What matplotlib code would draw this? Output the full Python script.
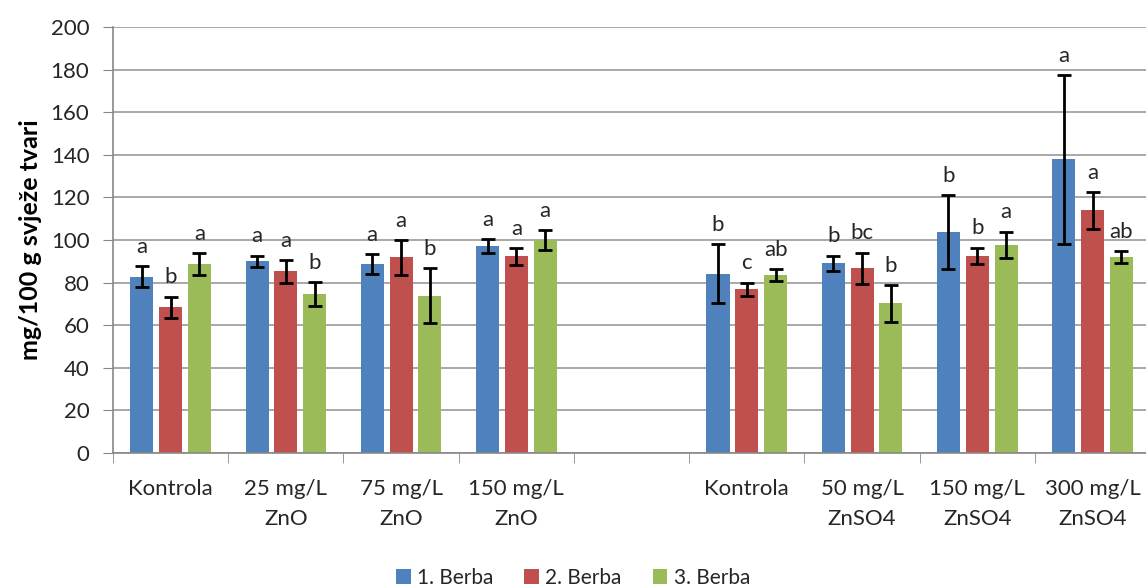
import matplotlib.pyplot as plt
import numpy as np

plt.rcParams['font.family'] = ['Lato', 'DejaVu Sans']
plt.rcParams['text.color'] = '#262626'
plt.rcParams['xtick.color'] = '#262626'
plt.rcParams['ytick.color'] = '#262626'

# kategorije (prazno mjesto između ZnO i ZnSO4)
categories = ["Kontrola", "25 mg/L\nZnO", "75 mg/L\nZnO", "150 mg/L\nZnO", "",
              "Kontrola", "50 mg/L\nZnSO4", "150 mg/L\nZnSO4", "300 mg/L\nZnSO4"]
series = ["1. Berba", "2. Berba", "3. Berba"]
colors = ["#4F81BD", "#C0504D", "#9BBB59"]

nan = np.nan
berba1 = [82.8, 90.0, 88.7, 97.2, nan, 84.2, 89.0, 103.6, 137.8]
berba2 = [68.4, 85.3, 91.9, 92.3, nan, 76.8, 86.7, 92.5, 113.9]
berba3 = [88.7, 74.5, 73.8, 100.0, nan, 83.6, 70.3, 97.8, 91.9]
err1 = [5.0, 2.7, 4.6, 3.3, nan, 14.0, 3.7, 17.3, 39.7]
err2 = [5.0, 5.3, 8.2, 3.9, nan, 3.2, 7.4, 3.9, 8.6]
err3 = [5.0, 5.7, 13.0, 4.8, nan, 2.9, 8.7, 6.1, 2.7]
letters1 = ["a", "a", "a", "a", "", "b", "b", "b", "a"]
letters2 = ["b", "a", "a", "a", "", "c", "bc", "b", "a"]
letters3 = ["a", "b", "b", "a", "", "ab", "b", "a", "ab"]

values = [berba1, berba2, berba3]
errors = [err1, err2, err3]
letters = [letters1, letters2, letters3]

fig = plt.figure(figsize=(11.46, 5.86), dpi=100)
ax = fig.add_axes([0.0986, 0.227, 0.905, 0.727])

x = np.arange(len(categories))
offsets = [-0.25, 0.0, 0.25]
for i in range(3):
    xs = x + offsets[i]
    ax.bar(xs, values[i], width=0.2, color=colors[i], label=series[i], zorder=2)
    ax.errorbar(xs, values[i], yerr=errors[i], fmt='none', ecolor='black',
                elinewidth=2, capsize=5, capthick=2, zorder=3)
    for xi, v, e, t in zip(xs, values[i], errors[i], letters[i]):
        if t:
            ax.text(xi, v + e + 9, t, ha='center', va='center', fontsize=16)

ax.set_ylim(0, 200)
ax.set_yticks(np.arange(0, 201, 20))
ax.set_xlim(-0.5, len(categories) - 0.5)
ax.set_xticks(x)
ax.set_xticklabels(categories, fontsize=16, linespacing=1.6, va='top')
ax.tick_params(axis='x', which='major', length=0, pad=19)
ax.set_xticks(np.arange(-0.5, len(categories), 1.0), minor=True)
ax.tick_params(axis='x', which='minor', length=7, color='#888888')
ax.tick_params(axis='y', labelsize=16, length=7, color='#888888', pad=10)

ax.grid(axis='y', color='#999999', linewidth=1.2, zorder=0)
ax.set_axisbelow(True)
for s in ['top', 'right']:
    ax.spines[s].set_visible(False)
for s in ['left', 'bottom']:
    ax.spines[s].set_color('#888888')
    ax.spines[s].set_linewidth(1.2)

ax.set_ylabel("mg/100 g svježe tvari", fontsize=18, fontweight='bold',
              color='black', labelpad=6)

fig.legend(loc='lower center', bbox_to_anchor=(0.5, -0.035), ncol=3,
           frameon=False, fontsize=15, handlelength=0.7, handleheight=0.7,
           handletextpad=0.3, columnspacing=1.5)

plt.savefig("out.png", dpi=100)
